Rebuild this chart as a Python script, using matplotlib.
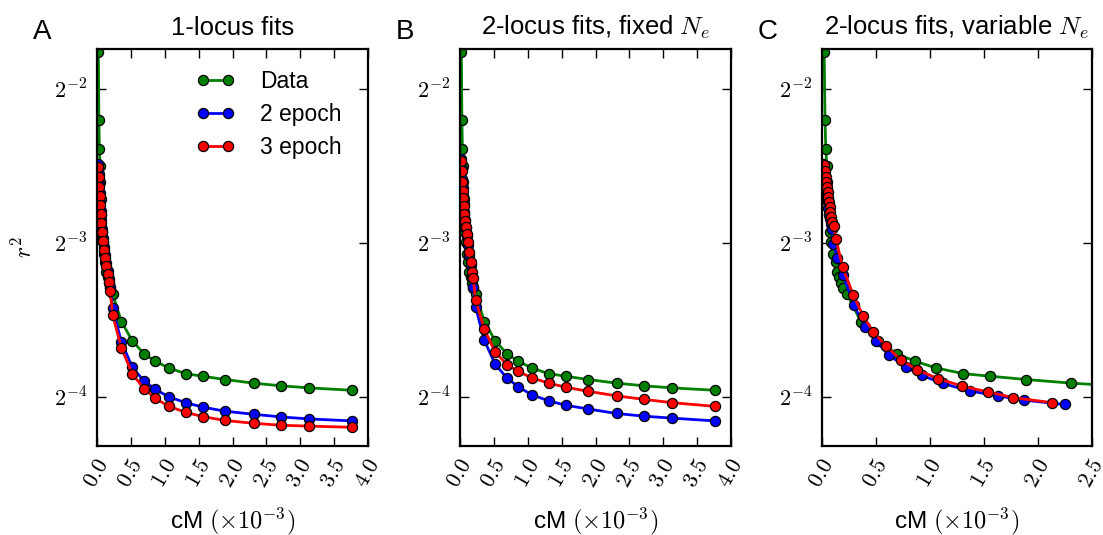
import matplotlib
matplotlib.use('Agg')
import matplotlib.pyplot as plt
from matplotlib.ticker import NullLocator

plt.rcParams['font.family'] = ['Liberation Sans', 'DejaVu Sans']
plt.rcParams['mathtext.fontset'] = 'cm'

# distance bins (cM x 1e-3) and observed r^2
data_x = [0.02, 0.028, 0.035, 0.045, 0.05, 0.058, 0.066, 0.075, 0.085, 0.105,
          0.125, 0.14, 0.155, 0.175, 0.195, 0.23, 0.36, 0.52, 0.69, 0.86,
          1.06, 1.31, 1.56, 1.89, 2.31, 2.72, 3.13, 3.76]
data_y = [0.2963, 0.2181, 0.1908, 0.1768, 0.1645, 0.1524, 0.1418, 0.1313, 0.1255, 0.1190,
          0.1149, 0.1099, 0.1072, 0.1045, 0.1020, 0.0994, 0.0877, 0.0804, 0.0759, 0.0733,
          0.0711, 0.0693, 0.0685, 0.0675, 0.0664, 0.0656, 0.0650, 0.0643]

# panel A: 1-locus fits
a_2ep = [0.1784, 0.1706, 0.1630, 0.1566, 0.1503, 0.1444, 0.1387, 0.1331, 0.1278, 0.1228,
         0.1186, 0.1142, 0.1101, 0.1063, 0.1025, 0.0932, 0.0800, 0.0714, 0.0671, 0.0646,
         0.0624, 0.0608, 0.0596, 0.0585, 0.0577, 0.0570, 0.0565, 0.0560]
a_3ep = [0.1760, 0.1684, 0.1608, 0.1544, 0.1483, 0.1424, 0.1368, 0.1313, 0.1261, 0.1211,
         0.1169, 0.1128, 0.1088, 0.1049, 0.1007, 0.0905, 0.0778, 0.0693, 0.0648, 0.0620,
         0.0598, 0.0582, 0.0571, 0.0561, 0.0554, 0.0549, 0.0547, 0.0544]

# panel B: 2-locus fits, fixed Ne
b_2ep = [0.1824, 0.1744, 0.1667, 0.1600, 0.1544, 0.1489, 0.1437, 0.1387, 0.1337, 0.1289,
         0.1239, 0.1186, 0.1133, 0.1078, 0.1025, 0.0936, 0.0805, 0.0723, 0.0680, 0.0653,
         0.0630, 0.0613, 0.0601, 0.0591, 0.0579, 0.0572, 0.0567, 0.0560]
b_3ep = [0.1810, 0.1730, 0.1643, 0.1582, 0.1528, 0.1478, 0.1424, 0.1383, 0.1341, 0.1301,
         0.1257, 0.1199, 0.1149, 0.1096, 0.1068, 0.0967, 0.0846, 0.0764, 0.0722, 0.0700,
         0.0680, 0.0664, 0.0652, 0.0640, 0.0627, 0.0617, 0.0608, 0.0598]

# panel C: 2-locus fits, variable Ne (rescaled distances)
c_2ep_x = [0.012, 0.022, 0.028, 0.034, 0.040, 0.046, 0.052, 0.058, 0.065, 0.072,
           0.080, 0.090, 0.105, 0.14, 0.197, 0.296, 0.398, 0.50, 0.623, 0.775,
           0.923, 1.118, 1.37, 1.627, 1.87, 2.247]
c_2ep_y = [0.1784, 0.1725, 0.1680, 0.1635, 0.1590, 0.1548, 0.1505, 0.1465, 0.1425, 0.1390,
           0.1360, 0.1331, 0.1245, 0.1170, 0.1080, 0.0943, 0.0855, 0.0802, 0.0753, 0.0714,
           0.0688, 0.0663, 0.0641, 0.0627, 0.0615, 0.0603]
c_3ep_x = [0.02, 0.027, 0.033, 0.039, 0.045, 0.051, 0.058, 0.064, 0.07, 0.078,
           0.085, 0.094, 0.11, 0.13, 0.19, 0.29, 0.38, 0.475, 0.59, 0.73,
           0.877, 1.07, 1.30, 1.54, 1.77, 2.13]
c_3ep_y = [0.1775, 0.1728, 0.1684, 0.1645, 0.1608, 0.1572, 0.1537, 0.1503, 0.1469, 0.1437,
           0.1405, 0.1374, 0.1350, 0.1273, 0.1122, 0.0989, 0.0900, 0.0837, 0.0786, 0.0738,
           0.0706, 0.0678, 0.0655, 0.0638, 0.0622, 0.0608]

titles = ['1-locus fits', r'2-locus fits, fixed $N_e$', r'2-locus fits, variable $N_e$']
letters = ['A', 'B', 'C']
xticks_ab = [0.0, 0.5, 1.0, 1.5, 2.0, 2.5, 3.0, 3.5, 4.0]
xticks_c = [0.0, 0.5, 1.0, 1.5, 2.0, 2.5]
yticks = [2**-2, 2**-3, 2**-4]
ytick_labels = [r'$2^{-2}$', r'$2^{-3}$', r'$2^{-4}$']

fig = plt.figure(figsize=(11.03, 5.35), dpi=100)
lefts = [97, 460, 822]
widths = [271, 271, 270]
axes = [fig.add_axes([l / 1103, 89 / 535, w / 1103, 397 / 535]) for l, w in zip(lefts, widths)]

style = dict(marker='o', ms=7.3, lw=2, mec='k', mew=0.9)
series = [
    ((data_x, a_2ep), (data_x, a_3ep)),
    ((data_x, b_2ep), (data_x, b_3ep)),
    ((c_2ep_x, c_2ep_y), (c_3ep_x, c_3ep_y)),
]

for i, ax in enumerate(axes):
    two, three = series[i]
    ax.plot(data_x, data_y, color='g', label='Data', **style)
    ax.plot(two[0], two[1], color='b', label='2 epoch', **style)
    ax.plot(three[0], three[1], color='r', label='3 epoch', **style)

    ax.set_yscale('log', base=2)
    ax.set_ylim(0.05, 0.3)
    ax.set_yticks(yticks)
    ax.set_yticklabels(ytick_labels)
    ax.yaxis.set_minor_locator(NullLocator())

    xt = xticks_c if i == 2 else xticks_ab
    ax.set_xlim(xt[0], xt[-1])
    ax.set_xticks(xt)
    ax.set_xticklabels([r'$%.1f$' % v for v in xt], rotation=60, ha='center')

    ax.tick_params(direction='in', length=6.5, width=1, top=True, right=True,
                   labelsize=16, pad=7)
    for sp in ax.spines.values():
        sp.set_linewidth(1.6)

    ax.set_title(titles[i], fontsize=18.5, pad=10)
    ax.set_xlabel(r'cM $(\times10^{-3})$', fontsize=17.5, labelpad=10)
    fig.text(lefts[i] / 1103 - 0.058, 1 - 32 / 535, letters[i], fontsize=20, va='center')

axes[0].set_ylabel(r'$r^2$', fontsize=17, labelpad=12)
axes[0].legend(loc='upper left', bbox_to_anchor=(0.29, 1.0), frameon=False, numpoints=2,
               fontsize=16.5, handlelength=1.7, labelspacing=0.45, handletextpad=1.1)

fig.savefig('out.png', dpi=100)
